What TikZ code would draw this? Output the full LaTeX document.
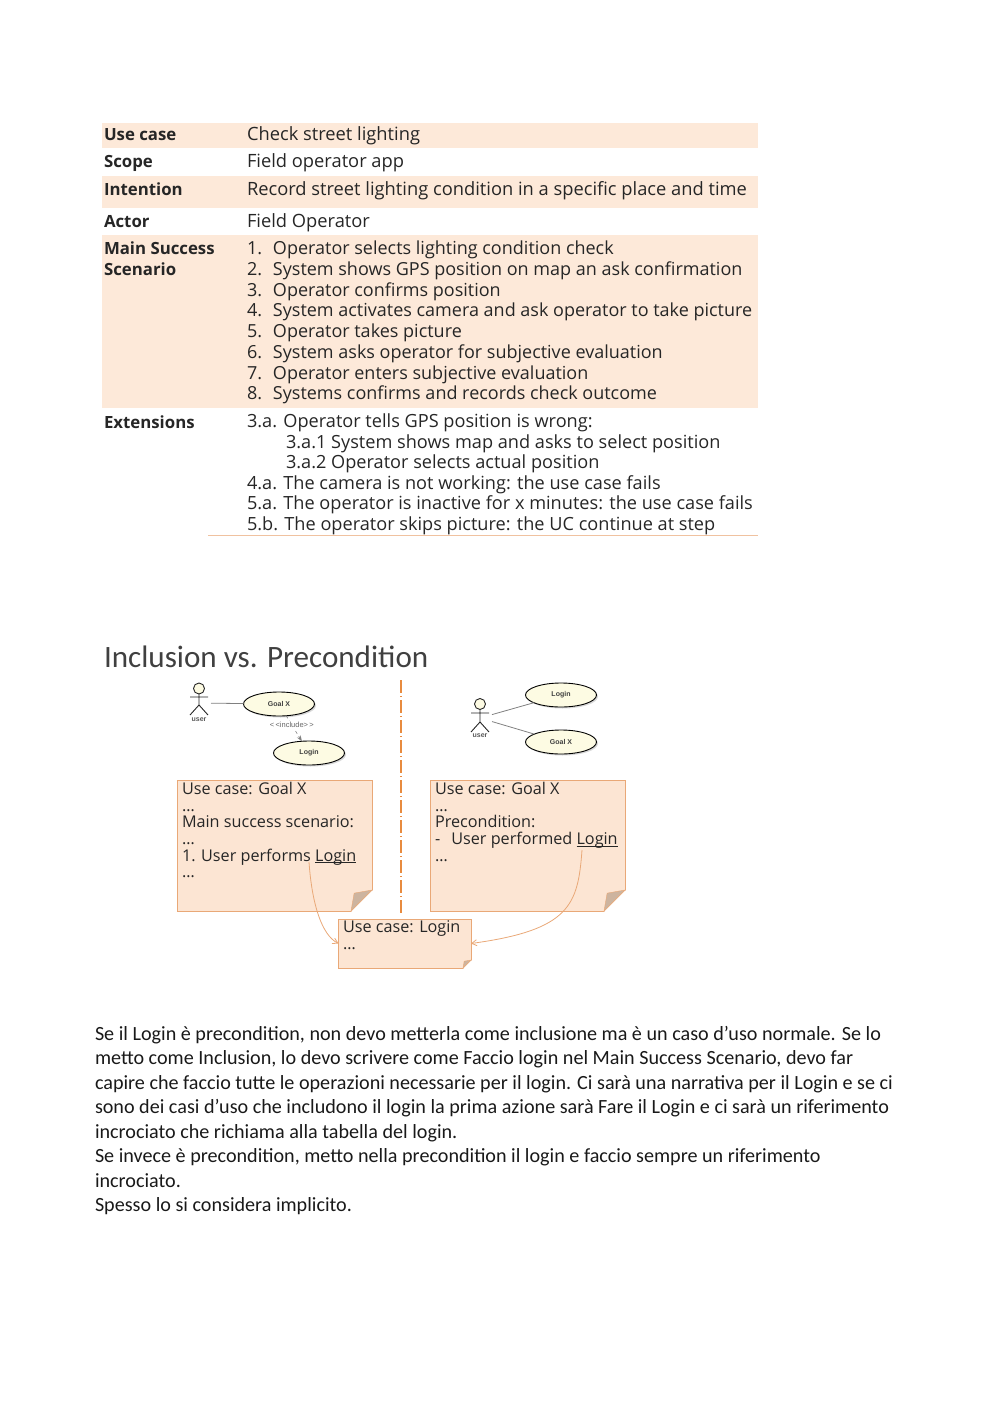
\documentclass[tikz,border=0pt]{standalone}
\usepackage{fontspec}
\setmainfont{Carlito}
\newfontfamily\tablefont{Open Sans}
\newfontfamily\umlfont{Liberation Sans}
\usetikzlibrary{positioning,arrows.meta,shapes.geometric,shadows}
\definecolor{bandfill}{HTML}{FDE9D9}
\definecolor{notefill}{HTML}{FCE5D3}
\definecolor{noteline}{HTML}{E9A877}
\definecolor{folded}{HTML}{CDB49F}
\definecolor{dashorange}{HTML}{E88B3F}
\definecolor{ucfill}{HTML}{FDFBE3}
\newcommand{\stepline}[2]{\makebox[26pt][l]{#1}#2}
\newcommand{\loginlink}{\underline{\smash{Login}}}
\newcommand{\notefold}[2]{
	\fill[white] ([shift={(-#2,1)}]#1.south east) -- ([shift={(1,-#2)}]#1.south east) -- ([shift={(1,1)}]#1.south east) -- cycle;
	\draw[noteline,fill=folded] ([shift={(-#2,0)}]#1.south east) -- ([shift={(0,-#2)}]#1.south east) -- ([shift={(-.85*#2,-.85*#2)}]#1.south east) -- cycle;
}
\begin{document}
\begin{tikzpicture}[
		x=1pt,y=-1pt,
		every node/.style={inner sep=0pt,outer sep=0pt},
		band/.style={fill=bandfill,draw=none},
		rowlabel/.style={anchor=west,text height=14pt,text depth=0pt,font=\tablefont\bfseries\fontsize{16.8}{20.7}\selectfont,text=black!85},
		rowtext/.style={anchor=west,text height=14pt,text depth=0pt,font=\tablefont\fontsize{18.3}{20.7}\selectfont,text=black!85},
		rowblock/.style={anchor=north west,align=left,font=\tablefont\fontsize{18}{20.75}\selectfont,text=black!85},
		notebox/.style={draw=noteline,fill=notefill,anchor=north west},
		notetext/.style={anchor=north west,align=left,font=\tablefont\fontsize{16.2}{16.7}\selectfont,text=black!85},
		usecase/.style={ellipse,draw=black,line width=.9pt,fill=ucfill,minimum width=71pt,minimum height=24pt,
			drop shadow={shadow xshift=1.5pt,shadow yshift=-1.5pt,fill=black!30},
			font=\umlfont\bfseries\fontsize{7}{8}\selectfont,text=black!75},
		actorbox/.style={minimum width=24pt,minimum height=30pt},
		actorname/.style={font=\umlfont\bfseries\fontsize{7}{8}\selectfont,text=black!65},
		stickfig/.style={draw=black!85,line width=.9pt},
		assoc/.style={draw=black!50,line width=.8pt},
		link/.style={draw=noteline,line width=.8pt,-{Straight Barb[length=5pt,width=6pt]}},
		>=Stealth
	]

	\useasboundingbox (0,0) rectangle (1000,1415);

	\fill[band] (102,123) rectangle (758,148);
	\fill[band] (102,176) rectangle (758,208);
	\fill[band] (102,235) rectangle (758,408);
	\draw[noteline!70] (208,535.5) -- (758,535.5);

	\node (usecaseL) [rowlabel] at (104,134) {Use case};
	\node (usecaseT) [rowtext] at (247,134) {Check street lighting};
	\node (scopeL) [rowlabel] at (104,161) {Scope};
	\node (scopeT) [rowtext] at (247,161) {Field operator app};
	\node (intentL) [rowlabel] at (104,189) {Intention};
	\node (intentT) [rowtext] at (247,189) {Record street lighting condition in a specific place and time};
	\node (actorL) [rowlabel] at (104,221) {Actor};
	\node (actorT) [rowtext] at (247,221) {Field Operator};
	\node (mainL) [rowblock,font=\tablefont\bfseries\fontsize{16.8}{20.7}\selectfont] at (104,242) {Main Success\\Scenario};
	\node (mainT) [rowblock] at (247,241)
	{\stepline{1.}{Operator selects lighting condition check}\\
		\stepline{2.}{System shows GPS position on map an ask confirmation}\\
		\stepline{3.}{Operator confirms position}\\
		\stepline{4.}{System activates camera and ask operator to take picture}\\
		\stepline{5.}{Operator takes picture}\\
		\stepline{6.}{System asks operator for subjective evaluation}\\
		\stepline{7.}{Operator enters subjective evaluation}\\
		\stepline{8.}{Systems confirms and records check outcome}};
	\node (extL) [rowlabel] at (104,421) {Extensions};
	\node (extT) [rowblock,font=\tablefont\fontsize{18.15}{20.55}\selectfont] at (247,414)
	{3.a. Operator tells GPS position is wrong:\\
		\hspace*{39pt}3.a.1 System shows map and asks to select position\\
		\hspace*{39pt}3.a.2 Operator selects actual position\\
		4.a. The camera is not working: the use case fails\\
		5.a. The operator is inactive for x minutes: the use case fails\\
		5.b. The operator skips picture: the UC continue at step};

	\node (title) [anchor=west,font=\fontsize{31.1}{36}\selectfont,text=black!75] at (104,656.5) {Inclusion vs. Precondition};

	\coordinate (dividerT) at (401,680);
	\coordinate (dividerB) at (401,914);
	\draw[dashorange,line width=1.5pt,dash pattern=on 13pt off 3pt on 1pt off 3pt] (dividerT) -- (dividerB);

	\node (userA) [actorbox] at (199,703) {};
	\node (goalA) [usecase] at (279,704) {Goal X};
	\node (loginA) [usecase] at (309,753) {Login};
	\node (nameA) [actorname] at (199,719.5) {user};
	\draw[stickfig,fill=ucfill] (199,688.5) circle (5.5);
	\draw[stickfig] (199,694) -- (199,705) (190,697) -- (208,697) (190,715) -- (199,705) -- (208,715);
	\draw[assoc] (userA) -- (goalA);
	\draw[black!50,dashed,line width=.6pt,->] (goalA) -- (loginA)
	node [pos=.36,fill=white,inner sep=1pt,font=\umlfont\fontsize{7.5}{8}\selectfont,text=black!60] {<\,<include>\,>};

	\node (userB) [actorbox] at (480,718) {};
	\node (loginB) [usecase] at (561,695) {Login};
	\node (goalB) [usecase] at (561,742) {Goal X};
	\node (nameB) [actorname] at (480,736) {user};
	\draw[stickfig,fill=ucfill] (480,704) circle (5.5);
	\draw[stickfig] (480,709.5) -- (480,722) (471,713) -- (489,713) (471,732) -- (480,722) -- (489,732);
	\draw[assoc] (userB) -- (loginB);
	\draw[assoc] (userB) -- (goalB);

	\node (noteA) [notebox,minimum width=194.5pt,minimum height=131pt] at (177.5,780) {};
	\notefold{noteA}{21}
	\node (noteAT) [notetext] at (182,782)
	{Use case: Goal X\\\ldots\\Main success scenario:\\\ldots\\1. User performs \loginlink\\\ldots};

	\node (noteB) [notebox,minimum width=194.5pt,minimum height=131pt] at (430.5,780) {};
	\notefold{noteB}{21}
	\node (noteBT) [notetext] at (435,782)
	{Use case: Goal X\\\ldots\\Precondition:\\-\ \ \,User performed \loginlink\\\ldots};

	\node (noteC) [notebox,minimum width=132.5pt,minimum height=49pt] at (338.5,919) {};
	\notefold{noteC}{8}
	\node (noteCT) [notetext] at (343,921) {Use case: Login\\\ldots};

	\coordinate (refA) at (309,862);
	\coordinate (refB) at (582,850);
	\draw[link] (refA) .. controls (312,905) and (322,935) .. (noteC.west);
	\draw[link] (refB) .. controls (578,905) and (570,930) .. (noteC.east);

	\node (body) [anchor=north west,align=left,font=\fontsize{20.14}{24.5}\selectfont,text=black!90] at (95,1026)
	{Se il Login è precondition, non devo metterla come inclusione ma è un caso d’uso normale. Se lo\\
		metto come Inclusion, lo devo scrivere come Faccio login nel Main Success Scenario, devo far\\
		capire che faccio tutte le operazioni necessarie per il login. Ci sarà una narrativa per il Login e se ci\\
		sono dei casi d’uso che includono il login la prima azione sarà Fare il Login e ci sarà un riferimento\\
		incrociato che richiama alla tabella del login.\\
		Se invece è precondition, metto nella precondition il login e faccio sempre un riferimento\\
		incrociato.\\
		Spesso lo si considera implicito.};

\end{tikzpicture}
\end{document}
